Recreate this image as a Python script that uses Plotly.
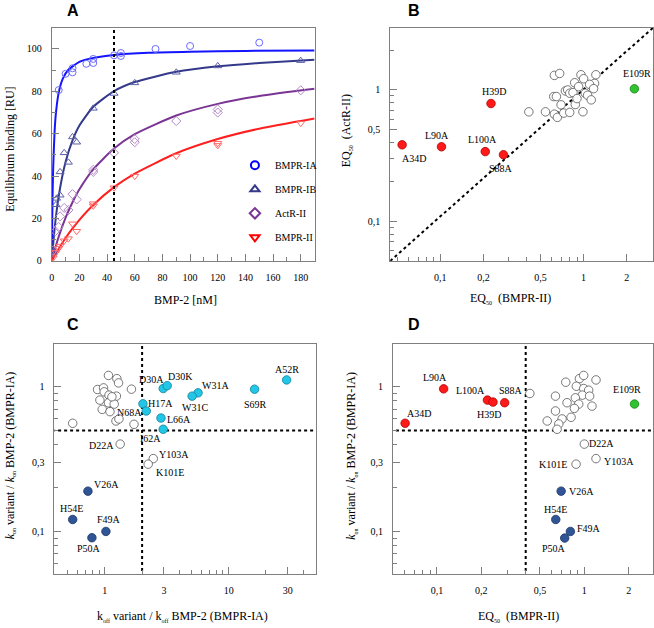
import numpy as np
import plotly.graph_objects as go

W, H = 654, 628

# ---------------- Panel A data ----------------
ia_x = [5, 10, 15, 15, 25, 30, 30, 45, 50, 50, 75, 100, 150]
ia_y = [80.6, 88.3, 89.0, 90.9, 93.0, 93.4, 95.3, 97.0, 96.7, 98.1, 100.0, 101.4, 103.0]
ib_x = [1, 3, 3.5, 6, 6, 9, 12, 15, 18, 30, 45, 60, 90, 120, 180]
ib_y = [4, 26.5, 29.5, 31, 42, 51, 46.5, 58.5, 56, 72, 79, 84, 89, 92, 94.5]
act_x = [1, 2.5, 5, 6, 9, 12, 15, 18, 30, 30, 45, 60, 60, 90, 120, 120, 180]
act_y = [5, 14, 16, 21, 25, 24, 31.5, 29, 43, 42, 51, 56, 57.5, 66, 70, 71.5, 80.5]
ii_x = [1, 3, 5, 6, 9, 12, 15, 18, 30, 30, 45, 60, 90, 120, 120, 180]
ii_y = [1.5, 4, 6, 7, 9.5, 10.5, 17.5, 14, 27, 26, 34.5, 40, 49.5, 54.5, 55.5, 65]

# fitted binding curves
fit_ia_x = [0, 0.5, 1, 2, 3, 5, 8, 12, 20, 30, 45, 70, 100, 140, 190]
fit_ia_y = [0, 27.8, 43.5, 60.6, 69.8, 79.4, 86.0, 90.2, 93.9, 95.8, 97.2, 98.2, 98.7, 99.1, 99.3]
fit_x = [0, 2, 5, 10, 15, 20, 30, 45, 60, 90, 120, 150, 190]
fit_ib_y = [0, 14.9, 30.5, 46.8, 56.9, 63.9, 72.7, 80.1, 84.4, 89.2, 91.8, 93.4, 94.9]
fit_act_y = [0, 4.9, 11.4, 20.4, 27.7, 33.8, 43.2, 53.0, 59.8, 68.6, 74.1, 77.8, 81.2]
fit_ii_y = [0, 2.4, 5.7, 10.8, 15.3, 19.4, 26.4, 34.8, 41.2, 50.8, 57.5, 62.4, 67.2]

# ---------------- Panel B data ----------------
b_open_x = [0.415, 0.542, 0.625, 0.681, 0.619, 0.646, 0.625, 0.656, 0.696, 0.727,
            0.746, 0.774, 0.800, 0.800, 0.843, 0.866, 0.875, 0.899, 0.923, 0.958,
            0.989, 1.0, 1.027, 1.066, 1.130, 1.192, 1.218, 1.101, 1.174]
b_open_y = [0.682, 0.682, 1.29, 1.335, 0.891, 0.891, 0.655, 0.619, 0.771, 0.667,
            0.983, 1.0, 0.944, 0.675, 0.955, 1.135, 0.775, 0.860, 1.06, 1.305,
            0.683, 1.217, 0.944, 0.911, 0.841, 1.123, 1.305, 1.103, 1.023]
b_red_names = ["A34D", "L90A", "L100A", "S88A", "H39D"]
b_red_x = [0.0542, 0.102, 0.206, 0.276, 0.226]
b_red_y = [0.383, 0.37, 0.34, 0.322, 0.789]
b_green_names = ["E109R"]
b_green_x = [2.26]
b_green_y = [1.02]

# ---------------- Panel C data ----------------
c_cyan_names = ["D30A", "D30K", "W31A", "W31C", "S69R", "A52R", "H17A", "N68A", "L66A", "I62A"]
c_cyan_x = [2.96, 3.19, 5.66, 5.07, 16.2, 29.4, 2.03, 2.16, 2.84, 2.96]
c_cyan_y = [0.974, 1.02, 0.909, 0.863, 0.964, 1.117, 0.764, 0.681, 0.609, 0.509]
c_blue_names = ["V26A", "H54E", "F49A", "P50A"]
c_blue_x = [0.730, 0.550, 1.02, 0.786]
c_blue_y = [0.190, 0.121, 0.100, 0.0905]
c_lab_names = ["D22A", "Y103A", "K101E"]
c_lab_x = [1.33, 2.46, 2.24]
c_lab_y = [0.402, 0.319, 0.292]
c_open_x = [0.550, 1.07, 1.25, 1.29, 1.64, 0.873, 0.976, 0.988, 1.08, 1.24,
            0.912, 1.07, 1.19, 0.952, 1.10, 1.23, 1.30, 1.72, 1.14]
c_open_y = [0.560, 1.20, 1.14, 1.065, 0.964, 0.959, 0.984, 0.924, 0.877, 0.863,
            0.810, 0.776, 0.760, 0.699, 0.674, 0.581, 0.600, 0.551, 0.854]

# ---------------- Panel D data ----------------
d_red_names = ["L90A", "L100A", "H39D", "S88A", "A34D"]
d_red_x = [0.111, 0.220, 0.240, 0.288, 0.0608]
d_red_y = [0.969, 0.810, 0.785, 0.777, 0.560]
d_green_names = ["E109R"]
d_green_x = [2.19]
d_green_y = [0.761]
d_blue_names = ["V26A", "H54E", "F49A", "P50A"]
d_blue_x = [0.696, 0.640, 0.804, 0.736]
d_blue_y = [0.190, 0.121, 0.100, 0.090]
d_lab_names = ["D22A", "Y103A", "K101E"]
d_lab_x = [1.0, 1.20, 0.879]
d_lab_y = [0.402, 0.319, 0.292]
d_open_x = [0.427, 0.637, 0.748, 0.926, 0.990, 1.20, 0.883, 0.990, 1.07, 0.969, 1.086,
            0.869, 0.763, 0.916, 1.127, 0.856, 0.637, 0.813, 0.706, 0.560, 0.671, 0.653]
d_open_y = [0.900, 0.863, 1.077, 1.14, 1.20, 1.117, 1.01, 0.974, 0.949, 0.877, 0.863,
            0.840, 0.777, 0.760, 0.736, 0.710, 0.681, 0.616, 0.600, 0.581, 0.554, 0.509]

# thresholds / reference lines
a_vline = 45
c_vline, c_hline = 2.0, 0.5
d_vline, d_hline = 0.4, 0.5

# axis ranges (log10 for log axes)
a_xr, a_yr = [0, 190], [0, 110]
b_xr, b_yr = [-1.349, 0.484], [-1.299, 0.4725]
c_xr, c_yr = [-0.407, 1.702], [-1.297, 0.297]
d_xr, d_yr = [-1.299, 0.468], [-1.297, 0.297]

# ---------------- label offsets (px, dx right, dy down) ----------------
b_off = {"A34D": (12, 14), "L90A": (-4, -11), "L100A": (-3, -12), "S88A": (-2, 14),
         "H39D": (3, -12), "E109R": (3, -15)}
c_off = {"D30A": (-12, -9), "D30K": (13, -9), "W31A": (17, -7), "W31C": (3, 11),
         "A52R": (0, -10), "S69R": (1, 15), "H17A": (18, 0), "N68A": (-17, 2),
         "L66A": (18, 1), "I62A": (-13, 9), "D22A": (-19, 1), "Y103A": (21, -4),
         "K101E": (22, 8), "V26A": (19, -7), "H54E": (-1, -11), "F49A": (3, -12),
         "P50A": (-3, 11)}
d_off = {"L90A": (-9, -11), "L100A": (-17, -10), "H39D": (-4, 12), "S88A": (6, -12),
         "A34D": (14, -10), "E109R": (-8, -15), "D22A": (17, -1), "Y103A": (23, 3),
         "K101E": (-23, 0), "V26A": (20, 0), "H54E": (0, -10), "F49A": (19, -3),
         "P50A": (-11, 10)}

SERIF = "Liberation Serif, Times New Roman, serif"
SANS = "Liberation Sans, Arial, sans-serif"
FRAME = "#7f7f7f"

C_IA, C_IB, C_ACT, C_II = "#1414ff", "#34398a", "#7a3594", "#ff1f1f"
M_IA, M_IB, M_ACT, M_II = "#6b6bff", "#5b5fa8", "#b48ac6", "#ff6a6a"
RED, GREEN, CYAN, DBLUE = "#ff1a1a", "#2fc42f", "#22c6e6", "#2f5597"

fig = go.Figure()

# ---- Panel A ----
for fx, fy, col in [(fit_ia_x, fit_ia_y, C_IA), (fit_x, fit_ib_y, C_IB),
                    (fit_x, fit_act_y, C_ACT), (fit_x, fit_ii_y, C_II)]:
    fig.add_trace(go.Scatter(x=fx, y=fy, mode="lines", line=dict(color=col, width=2, shape="spline", smoothing=0.6),
                             showlegend=False, hoverinfo="skip", xaxis="x", yaxis="y"))
for dx_, dy_, sym, col in [(ia_x, ia_y, "circle-open", M_IA), (ib_x, ib_y, "triangle-up-open", M_IB),
                           (act_x, act_y, "diamond-open", M_ACT), (ii_x, ii_y, "triangle-down-open", M_II)]:
    fig.add_trace(go.Scatter(x=dx_, y=dy_, mode="markers", marker=dict(symbol=sym, size=7, color=col, line=dict(width=1)),
                             showlegend=False, xaxis="x", yaxis="y"))
fig.add_trace(go.Scatter(x=[a_vline, a_vline], y=a_yr, mode="lines",
                         line=dict(color="black", width=2, dash="dot"), showlegend=False, xaxis="x", yaxis="y"))
for i, (name, sym, col) in enumerate([("BMPR-IA", "circle-open", "#0000ff"), ("BMPR-IB", "triangle-up-open", C_IB),
                                      ("ActR-II", "diamond-open", C_ACT), ("BMPR-II", "triangle-down-open", "#ff0000")]):
    fig.add_trace(go.Scatter(x=[None], y=[None], mode="markers", name=name, legendgroup=f"g{i}",
                             marker=dict(symbol=sym, size=8, color=col, line=dict(width=2)),
                             xaxis="x", yaxis="y"))

# ---- helper for scatter panels ----
def add_points(x, y, ax, fill, edge, size=8.5):
    fig.add_trace(go.Scatter(x=x, y=y, mode="markers", showlegend=False,
                             marker=dict(symbol="circle", size=size, color=fill, line=dict(color=edge, width=0.8)),
                             xaxis=ax[0], yaxis=ax[1]))

def add_labels(names, x, y, ax, off):
    for n, xv, yv in zip(names, x, y):
        dx, dy = off[n]
        fig.add_annotation(x=np.log10(xv), y=np.log10(yv), xref=ax[0], yref=ax[1], text=n,
                           showarrow=False, xshift=dx, yshift=-dy,
                           font=dict(family=SERIF, size=10, color="black"))

# ---- Panel B ----
AXB = ("x2", "y2")
fig.add_trace(go.Scatter(x=[10 ** b_xr[0], 10 ** b_xr[1]], y=[10 ** b_yr[0], 10 ** b_yr[1]], mode="lines",
                         line=dict(color="black", width=2, dash="dot"),
                         showlegend=False, xaxis="x2", yaxis="y2"))
add_points(b_open_x, b_open_y, AXB, "white", "#555555")
add_points(b_red_x, b_red_y, AXB, RED, "#b00000")
add_points(b_green_x, b_green_y, AXB, GREEN, "#1b7f1b")
add_labels(b_red_names, b_red_x, b_red_y, AXB, b_off)
add_labels(b_green_names, b_green_x, b_green_y, AXB, b_off)

# ---- Panel C ----
AXC = ("x3", "y3")
fig.add_trace(go.Scatter(x=[c_vline, c_vline], y=[0.03, 3], mode="lines", line=dict(color="black", width=2, dash="dot"),
                         showlegend=False, xaxis="x3", yaxis="y3"))
fig.add_trace(go.Scatter(x=[0.3, 70], y=[c_hline, c_hline], mode="lines", line=dict(color="black", width=2, dash="dot"),
                         showlegend=False, xaxis="x3", yaxis="y3"))
add_points(c_open_x, c_open_y, AXC, "white", "#555555")
add_points(c_lab_x, c_lab_y, AXC, "white", "#555555")
add_points(c_cyan_x, c_cyan_y, AXC, CYAN, "#16809a")
add_points(c_blue_x, c_blue_y, AXC, DBLUE, "#1c3565")
add_labels(c_cyan_names, c_cyan_x, c_cyan_y, AXC, c_off)
add_labels(c_blue_names, c_blue_x, c_blue_y, AXC, c_off)
add_labels(c_lab_names, c_lab_x, c_lab_y, AXC, c_off)

# ---- Panel D ----
AXD = ("x4", "y4")
fig.add_trace(go.Scatter(x=[d_vline, d_vline], y=[0.03, 3], mode="lines", line=dict(color="black", width=2, dash="dot"),
                         showlegend=False, xaxis="x4", yaxis="y4"))
fig.add_trace(go.Scatter(x=[0.03, 4], y=[d_hline, d_hline], mode="lines", line=dict(color="black", width=2, dash="dot"),
                         showlegend=False, xaxis="x4", yaxis="y4"))
add_points(d_open_x, d_open_y, AXD, "white", "#555555")
add_points(d_lab_x, d_lab_y, AXD, "white", "#555555")
add_points(d_red_x, d_red_y, AXD, RED, "#b00000")
add_points(d_green_x, d_green_y, AXD, GREEN, "#1b7f1b")
add_points(d_blue_x, d_blue_y, AXD, DBLUE, "#1c3565")
add_labels(d_red_names, d_red_x, d_red_y, AXD, d_off)
add_labels(d_green_names, d_green_x, d_green_y, AXD, d_off)
add_labels(d_blue_names, d_blue_x, d_blue_y, AXD, d_off)
add_labels(d_lab_names, d_lab_x, d_lab_y, AXD, d_off)

# ---------------- axes ----------------
def base(**kw):
    d = dict(showline=True, linecolor=FRAME, linewidth=1, mirror=True, ticks="inside", tickcolor=FRAME,
             ticklen=7, tickwidth=1, showgrid=False, zeroline=False, ticklabelstandoff=7,
             tickfont=dict(family=SERIF, size=10, color="black"))
    d.update(kw)
    return d

def minor_log(vals):
    return dict(tickmode="array", tickvals=vals, ticks="inside", ticklen=4, tickcolor=FRAME, tickwidth=1, showgrid=False)

def dom_x(l, r):
    return [l / W, r / W]

def dom_y(t, b):
    return [1 - b / H, 1 - t / H]

eq_x_minor = [0.05, 0.06, 0.07, 0.08, 0.09, 0.3, 0.4, 0.6, 0.7, 0.8, 0.9, 3]
eq_x_vals = [0.1, 0.2, 0.5, 1, 2]
eq_x_text = ["0,1", "0,2", "0,5", "1", "2"]

fig.update_layout(
    xaxis=base(domain=dom_x(49, 313), range=a_xr, anchor="y", tickvals=list(range(0, 181, 20)),
               minor=dict(dtick=10, tick0=0, ticks="inside", ticklen=4, tickcolor=FRAME, showgrid=False)),
    yaxis=base(domain=dom_y(28, 263), range=a_yr, anchor="x", tickvals=list(range(0, 101, 20)),
               minor=dict(dtick=10, tick0=0, ticks="inside", ticklen=4, tickcolor=FRAME, showgrid=False)),
    xaxis2=base(domain=dom_x(389, 653), type="log", range=b_xr, anchor="y2",
                tickvals=eq_x_vals, ticktext=eq_x_text, minor=minor_log(eq_x_minor)),
    yaxis2=base(domain=dom_y(28, 263), type="log", range=b_yr, anchor="x2",
                tickvals=[0.1, 0.5, 1], ticktext=["0,1", "0,5", "1"],
                minor=minor_log([0.06, 0.07, 0.08, 0.09, 0.2, 0.3, 0.4, 0.6, 0.7, 0.8, 0.9, 2])),
    xaxis3=base(domain=dom_x(51.7, 314), type="log", range=c_xr, anchor="y3",
                tickvals=[1, 3, 10, 30], ticktext=["1", "3", "10", "30"],
                minor=minor_log([0.5, 0.6, 0.7, 0.8, 0.9, 2, 4, 5, 6, 7, 8, 9, 20, 40])),
    yaxis3=base(domain=dom_y(346.7, 579), type="log", range=c_yr, anchor="x3",
                tickvals=[0.1, 0.3, 1], ticktext=["0,1", "0,3", "1"],
                minor=minor_log([0.06, 0.07, 0.08, 0.09, 0.2, 0.4, 0.5, 0.6, 0.7, 0.8, 0.9])),
    xaxis4=base(domain=dom_x(391.7, 653.3), type="log", range=d_xr, anchor="y4",
                tickvals=eq_x_vals, ticktext=eq_x_text, minor=minor_log(eq_x_minor)),
    yaxis4=base(domain=dom_y(346.7, 579), type="log", range=d_yr, anchor="x4",
                tickvals=[0.1, 0.3, 1], ticktext=["0,1", "0,3", "1"],
                minor=minor_log([0.06, 0.07, 0.08, 0.09, 0.2, 0.4, 0.5, 0.6, 0.7, 0.8, 0.9])),
    width=W, height=H, margin=dict(l=0, r=0, t=0, b=0),
    paper_bgcolor="white", plot_bgcolor="white",
    showlegend=True,
    legend=dict(x=233 / W, y=1 - 152 / H, xanchor="left", yanchor="top", bgcolor="rgba(0,0,0,0)",
                font=dict(family=SERIF, size=10, color="black"), tracegroupgap=5, itemwidth=30),
)

# ---------------- text annotations ----------------
def ann(text, x, y, size=12, angle=0, family=SERIF, bold=False):
    fig.add_annotation(x=x / W, y=1 - y / H, xref="paper", yref="paper", text=(f"<b>{text}</b>" if bold else text),
                       showarrow=False, textangle=angle, xanchor="center", yanchor="middle",
                       font=dict(family=family, size=size, color="black"))

for letter, x, y in [("A", 70, 11), ("B", 413, 11), ("C", 70, 327), ("D", 413, 327)]:
    ann(letter, x, y, size=16, family=SANS, bold=True)

SUB = lambda s: f"<sub><span style='font-size:6px'>{s}</span></sub>"
ann("Equilibrium binding [RU]", 7, 150, angle=-90)
ann("BMP-2 [nM]", 183, 302)
ann(f"EQ{SUB('50')}  (ActR-II)", 346, 132, angle=-90)
ann(f"EQ{SUB('50')}  (BMPR-II)", 510, 301)
ann(f"<i>k</i>{SUB('on')} variant / <i>k</i>{SUB('on')} BMP-2 (BMPR-IA)", 7, 459, angle=-90)
ann(f"k{SUB('off')} variant / k{SUB('off')} BMP-2 (BMPR-IA)", 180, 621)
ann(f"<i>k</i>{SUB('on')} variant / <i>k</i>{SUB('on')} BMP-2 (BMPR-IA)", 350, 459, angle=-90)
ann(f"EQ{SUB('50')}  (BMPR-II)", 518, 621)

fig.write_html("out.html", config={"displayModeBar": False},
               post_script="document.body.style.margin='0';document.body.style.overflow='hidden';")
